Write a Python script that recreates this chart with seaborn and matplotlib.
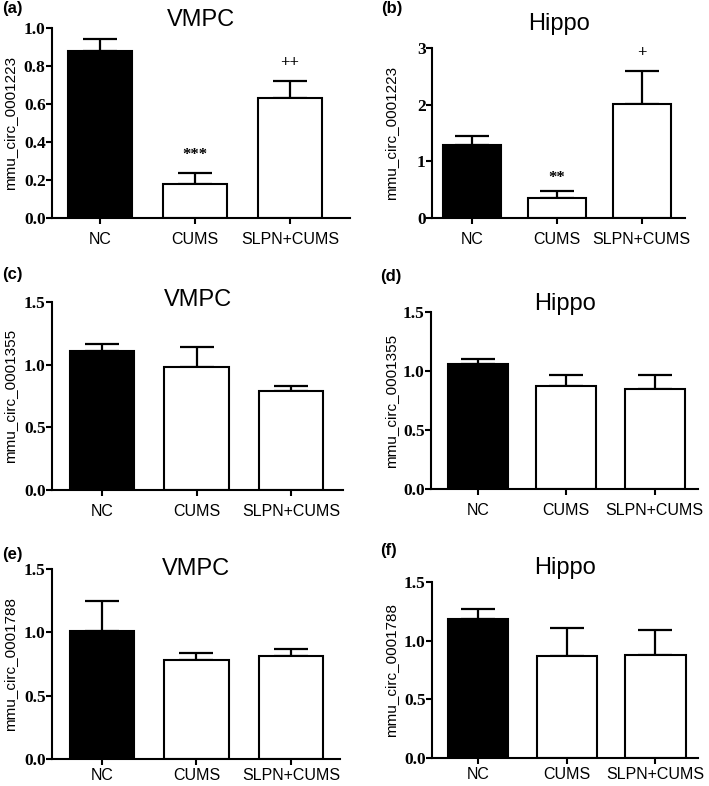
import matplotlib
matplotlib.use("Agg")
import matplotlib.pyplot as plt
import seaborn as sns
import numpy as np
import pandas as pd

sns.set_style("ticks")
plt.rcParams['font.family'] = ['Liberation Sans', 'DejaVu Sans']
plt.rcParams.update({"text.color": "black", "axes.labelcolor": "black",
                     "xtick.color": "black", "ytick.color": "black",
                     "axes.edgecolor": "black"})

# ---- data ----
categories = ["NC", "CUMS", "SLPN+CUMS"]
panel_labels = ["(a)", "(b)", "(c)", "(d)", "(e)", "(f)"]
titles = ["VMPC", "Hippo", "VMPC", "Hippo", "VMPC", "Hippo"]
ylabels = ["mmu_circ_0001223", "mmu_circ_0001223",
           "mmu_circ_0001355", "mmu_circ_0001355",
           "mmu_circ_0001788", "mmu_circ_0001788"]

means_a = [0.88, 0.18, 0.63]
err_a = [0.06, 0.055, 0.09]
means_b = [1.28, 0.35, 2.02]
err_b = [0.17, 0.13, 0.58]
means_c = [1.11, 0.98, 0.79]
err_c = [0.055, 0.16, 0.04]
means_d = [1.06, 0.873, 0.847]
err_d = [0.04, 0.09, 0.115]
means_e = [1.01, 0.78, 0.815]
err_e = [0.24, 0.06, 0.055]
means_f = [1.185, 0.867, 0.878]
err_f = [0.085, 0.245, 0.217]

means = [means_a, means_b, means_c, means_d, means_e, means_f]
errs = [err_a, err_b, err_c, err_d, err_e, err_f]

yticks = [[0.0, 0.2, 0.4, 0.6, 0.8, 1.0], [0, 1, 2, 3],
          [0.0, 0.5, 1.0, 1.5], [0.0, 0.5, 1.0, 1.5],
          [0.0, 0.5, 1.0, 1.5], [0.0, 0.5, 1.0, 1.5]]
ytick_fmt = ["{:.1f}", "{:.0f}", "{:.1f}", "{:.1f}", "{:.1f}", "{:.1f}"]

# significance marks: (panel index, category index, text, y value)
sig_marks = [(0, 1, "***", 0.33), (0, 2, "++", 0.815),
             (1, 1, "**", 0.71), (1, 2, "+", 2.91)]

bar_colors = ["black", "white", "white"]

# ---- layout (pixels) ----
W, H = 709, 786
# x0, ytop, x1, ybottom
rects = [(52, 28, 350, 218), (432, 48, 685, 218),
         (52, 302, 343, 490), (431, 312, 698, 489),
         (52, 569, 340, 759), (432, 582, 698, 758)]
xlims = [(-0.505, 2.63), (-0.47, 2.51), (-0.53, 2.55),
         (-0.53, 2.49), (-0.53, 2.52), (-0.52, 2.48)]
title_off = [8, 24, 2, 8, 0, 14]       # px above top of axes (centre)
label_pos = [(2, 9), (381, 9), (2, 275), (380, 277), (2, 555), (380, 550)]
ylabel_x = [10, 391, 10, 391, 10, 391]
xpads = [6, 6, 6, 6, 2.5, 2.5]

fig = plt.figure(figsize=(W / 100, H / 100), dpi=100)
fig.patch.set_facecolor("white")

for i in range(6):
    x0, yt, x1, yb = rects[i]
    ax = fig.add_axes([x0 / W, 1 - yb / H, (x1 - x0) / W, (yb - yt) / H])
    df = pd.DataFrame({"group": categories, "value": means[i]})
    sns.barplot(data=df, x="group", y="value", hue="group",
                palette=bar_colors, edgecolor="black", linewidth=1.5,
                width=0.68, errorbar=None, legend=False, ax=ax, zorder=2)
    e = np.array(errs[i])
    ax.errorbar(x=np.arange(3), y=means[i], yerr=[np.zeros(3), e],
                fmt="none", ecolor="black", elinewidth=1.6, capsize=12,
                capthick=1.6, zorder=1)
    ax.set_xlim(*xlims[i])
    ax.set_ylim(0, yticks[i][-1])
    ax.set_yticks(yticks[i])
    ax.set_yticklabels([ytick_fmt[i].format(v) for v in yticks[i]],
                       fontfamily="Liberation Serif", fontweight="bold",
                       fontsize=12.5, color="black")
    ax.set_xticks(range(3))
    ax.set_xticklabels(categories, fontsize=11.5, color="black")
    ax.set_xlabel("")
    ax.set_ylabel(ylabels[i], fontsize=11, color="black")
    ax.yaxis.label.set_verticalalignment("center")
    ax.yaxis.label.set_rotation_mode("default")
    ax.yaxis.set_label_coords((ylabel_x[i] - x0) / (x1 - x0), 0.5)
    for s in ["top", "right"]:
        ax.spines[s].set_visible(False)
    for s in ["left", "bottom"]:
        ax.spines[s].set_linewidth(1.5)
        ax.spines[s].set_color("black")
    ax.tick_params(axis="both", length=4, width=1.5, color="black")
    ax.tick_params(axis="y", pad=0.5)
    ax.tick_params(axis="x", pad=xpads[i])
    ax.set_facecolor("white")
    ax.text(0.5, 1 + title_off[i] / (yb - yt), titles[i], color="black",
            transform=ax.transAxes, ha="center", va="center", fontsize=17)
    lx, ly = label_pos[i]
    fig.text(lx / W, 1 - ly / H, panel_labels[i], ha="left", va="center",
             fontsize=12, fontweight="bold", color="black")

    for (pi, ci, txt, yv) in sig_marks:
        if pi == i:
            ax.text(ci, yv, txt, ha="center", va="center", fontsize=12,
                    fontweight="bold", fontfamily="Liberation Serif",
                    color="black")

fig.savefig("out.png", dpi=100, facecolor="white")
